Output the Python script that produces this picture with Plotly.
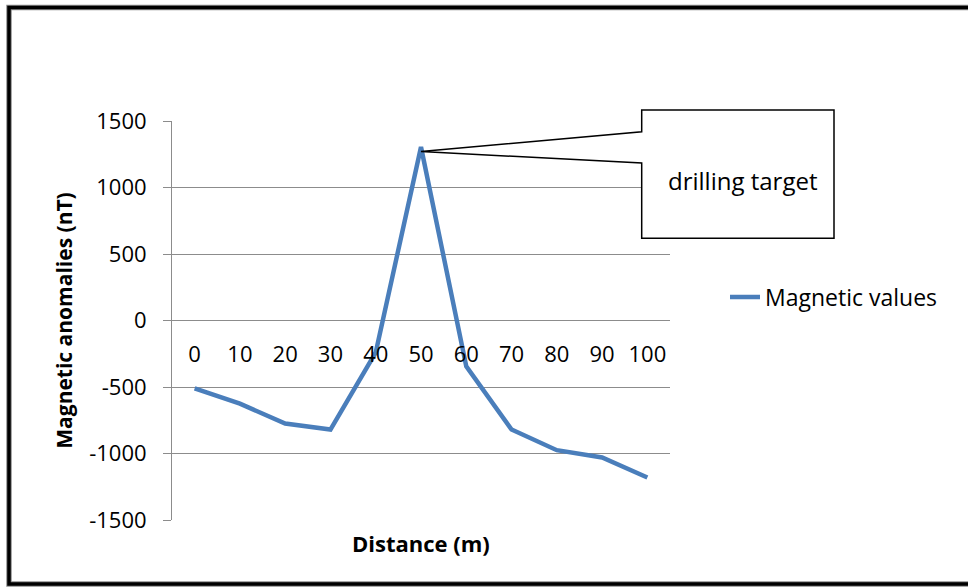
import plotly.graph_objects as go

# Survey profile: distance along the line (m) and magnetic anomaly (nT)
distance = [0, 10, 20, 30, 40, 50, 60, 70, 80, 90, 100]
magnetic = [-510, -625, -775, -820, -240, 1305, -345, -820, -975, -1030, -1180]
tick_labels = [str(d) for d in distance]

y_ticks = [-1500, -1000, -500, 0, 500, 1000, 1500]
y_tick_text = [str(v) for v in y_ticks]
y_range = [-1500, 1500]

# Callout pointing at the anomaly peak
target_index = distance.index(50)
target_y = 1270
target_text = "drilling target"

FONT = "Open Sans"
W, H = 968, 587
L, R, T, B = 172, 298, 121, 67
PW, PH = W - L - R, H - T - B


def px_x(px):
    return (px - L) / PW


def px_y(py):
    return (H - B - py) / PH


fig = go.Figure()
fig.add_trace(go.Scatter(
    x=tick_labels, y=magnetic, mode="lines", name="Magnetic values",
    line=dict(color="#4a7ebb", width=4.5),
))

# tip of the callout in paper coordinates, from the axis mapping
n_cat = len(distance)
tip_x = (target_index + 0.5) / n_cat
tip_y = (target_y - y_range[0]) / (y_range[1] - y_range[0])

bx0, bx1 = px_x(641.7), px_x(834)
by0, by1 = px_y(110), px_y(238.3)
w_top, w_bot = px_y(131.7), px_y(163)
path = (f"M {tip_x},{tip_y} L {bx0},{w_top} L {bx0},{by0} L {bx1},{by0} "
        f"L {bx1},{by1} L {bx0},{by1} L {bx0},{w_bot} Z")

shapes = [
    dict(type="path", xref="paper", yref="paper", path=path,
         fillcolor="white", line=dict(color="black", width=1.5), layer="above"),
    # chart frame
    dict(type="rect", xref="paper", yref="paper",
         x0=px_x(9), x1=px_x(985), y0=px_y(7.5), y1=px_y(584),
         line=dict(color="#8c8c8c", width=5.5), layer="above"),
    dict(type="rect", xref="paper", yref="paper",
         x0=px_x(9), x1=px_x(985), y0=px_y(7.5), y1=px_y(584),
         line=dict(color="black", width=3.5), layer="above"),
]

annotations = [
    dict(xref="paper", yref="paper", x=px_x(742.5), y=px_y(180),
         text=target_text, showarrow=False,
         font=dict(family=FONT, size=24, color="black"),
         xanchor="center", yanchor="middle"),
    dict(xref="paper", yref="paper", x=0.5, y=px_y(543),
         text="<b>Distance (m)</b>", showarrow=False,
         font=dict(family=FONT, size=22, color="black"),
         xanchor="center", yanchor="middle"),
]

fig.update_layout(
    width=W, height=H,
    margin=dict(l=L, r=R, t=T, b=B, pad=0),
    paper_bgcolor="white", plot_bgcolor="white",
    font=dict(family=FONT, size=22, color="black"),
    shapes=shapes, annotations=annotations,
    showlegend=True,
    legend=dict(x=px_x(725), y=px_y(297), xanchor="left", yanchor="middle",
                font=dict(family=FONT, size=23, color="black"),
                bgcolor="rgba(0,0,0,0)"),
    xaxis=dict(
        type="category", range=[-0.5, n_cat - 0.5],
        anchor="free", position=0.5,
        showline=False, showgrid=False, zeroline=False, ticks="",
        tickfont=dict(family=FONT, size=22, color="black"),
        ticklabelstandoff=18,
    ),
    yaxis=dict(
        range=y_range, tickvals=y_ticks, ticktext=y_tick_text,
        showline=True, linecolor="#8c8c8c", linewidth=1,
        showgrid=True, gridcolor="#8c8c8c", gridwidth=1, zeroline=False,
        ticks="outside", ticklen=8, tickcolor="#8c8c8c",
        tickfont=dict(family=FONT, size=22, color="black"),
        ticklabelstandoff=12,
        title=dict(text="<b>Magnetic anomalies (nT)</b>",
                   font=dict(family=FONT, size=21), standoff=10),
    ),
)

fig.write_html("out.html")
